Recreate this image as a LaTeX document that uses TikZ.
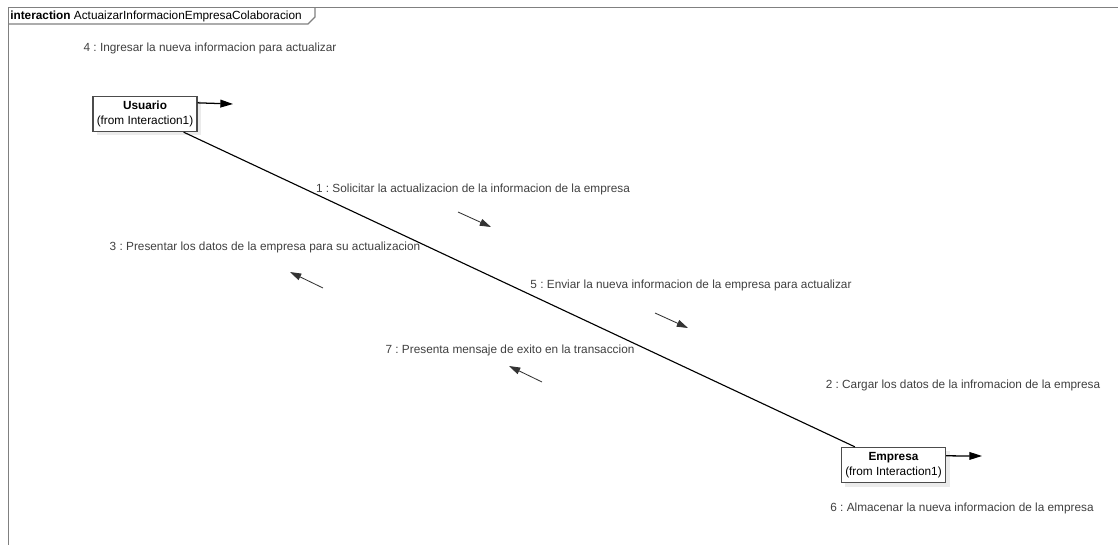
\documentclass[tikz,border=0pt]{standalone}
\usepackage{fontspec}
\setmainfont{Liberation Sans}
\usetikzlibrary{arrows.meta,positioning,calc}
\definecolor{frameGray}{RGB}{128,128,128}
\definecolor{labelGray}{RGB}{64,64,64}
\frenchspacing

\begin{document}
\begin{tikzpicture}[x=0.025cm, y=-0.025cm,
    every node/.style={font=\fontsize{8.4}{10}\selectfont},
    objbox/.style={draw=black!70, fill=white, thick, align=center,
      minimum width=2.6cm, minimum height=0.88cm, inner sep=1pt,
      font=\fontsize{8.4}{10.5}\selectfont},
    msg/.style={text=labelGray},
    link/.style={draw=black, line width=0.8pt},
    msgarrow/.style={draw=black!80, line width=0.6pt, -{Triangle[length=8pt,width=5pt]}},
    selfarrow/.style={draw=black, line width=0.9pt, -{Triangle[length=9pt,width=5.5pt]}}]
    \useasboundingbox (0,0) rectangle (1118,545);

    % Frame with title tab
    \draw[frameGray, line width=1.2pt] (8.5,545) -- (8.5,7.5) -- (1118,7.5);
    \draw[frameGray, line width=0.8pt] (8.5,24) -- (308,24) -- (315,17) -- (315,7.5);
    \node[anchor=west, inner sep=0pt] (title) at (10,16)
      {\textbf{interaction} ActuaizarInformacionEmpresaColaboracion};

    % Objects (with light shadow)
    \fill[black!8] (97,101) rectangle (201,135);
    \node[objbox] (usuario) at (145,114) {\textbf{Usuario}\\(from Interaction1)};
    \fill[black!8] (845,451) rectangle (950,487);
    \node[objbox] (empresa) at (893.5,465) {\textbf{Empresa}\\(from Interaction1)};

    % Link between the objects
    \draw[link] (usuario) -- (empresa);

    % Self messages
    \coordinate (uself) at (233,104);
    \draw[selfarrow] ($(usuario.north east)+(0,7)$) -- (uself);
    \coordinate (eself) at (982,456);
    \draw[selfarrow] ($(empresa.north east)+(0,9)$) -- (eself);

    % Message labels
    \node[msg] (m4) at (210,48) {4 : Ingresar la nueva informacion para actualizar};
    \node[msg] (m1) at (473,189) {1 : Solicitar la actualizacion de la informacion de la empresa};
    \node[msg] (m3) at (265,247) {3 : Presentar los datos de la empresa para su actualizacion};
    \node[msg] (m5) at (691,285) {5 : Enviar la nueva informacion de la empresa para actualizar};
    \node[msg] (m7) at (510,350) {7 : Presenta mensaje de exito en la transaccion};
    \node[msg] (m2) at (963,385) {2 : Cargar los datos de la infromacion de la empresa};
    \node[msg] (m6) at (962,508) {6 : Almacenar la nueva informacion de la empresa};

    % Message direction arrows
    \coordinate (a1s) at (458,212); \coordinate (a1e) at (491,227);
    \coordinate (a3s) at (323,288); \coordinate (a3e) at (290,272);
    \coordinate (a5s) at (655,313); \coordinate (a5e) at (688,328);
    \coordinate (a7s) at (542,382); \coordinate (a7e) at (509,366);
    \draw[msgarrow] (a1s) -- (a1e);
    \draw[msgarrow] (a3s) -- (a3e);
    \draw[msgarrow] (a5s) -- (a5e);
    \draw[msgarrow] (a7s) -- (a7e);
  \end{tikzpicture}
\end{document}
